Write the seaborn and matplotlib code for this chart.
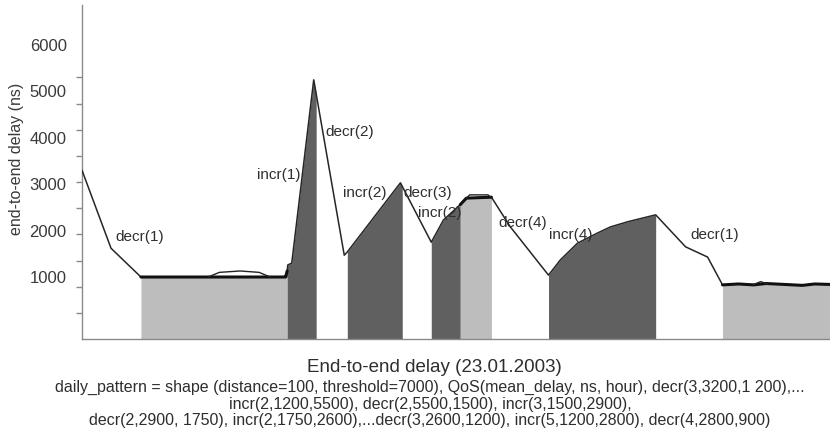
import numpy as np
import matplotlib
matplotlib.use("Agg")
import matplotlib.pyplot as plt
import seaborn as sns
from matplotlib.ticker import FixedLocator

# Patrón diario: hora vs. retardo extremo a extremo (ns)
pattern_hour = [0.00, 0.95, 1.93, 6.70, 6.74, 6.87, 7.59, 8.59, 8.69, 10.43,
                11.44, 11.84, 12.39, 12.59, 13.41, 14.03, 15.28, 15.67, 16.23,
                16.89, 17.31, 17.87, 18.79, 19.77, 20.49, 20.98, 21.50, 22.00,
                22.40, 23.00, 23.60, 24.00, 24.50]
pattern_delay = [3300, 1620, 1000, 1000, 1260, 1300, 5250, 1470, 1540, 3030,
                 1750, 2230, 2560, 2700, 2720, 2080, 1040, 1370, 1730,
                 1950, 2080, 2190, 2340, 1650, 1430, 830, 850, 830,
                 860, 840, 820, 850, 840]

# Tramos sombreados (inicio, fin, tono)
region_start = [1.93, 6.72, 8.69, 11.44, 12.39, 15.28, 20.98]
region_end = [6.72, 7.67, 10.49, 12.39, 13.41, 18.79, 24.50]
region_kind = ["flat", "shape", "shape", "shape", "flat", "shape", "flat"]

# Pequeñas protuberancias sobre los tramos planos
bump_hours = [[4.13, 4.50, 5.18, 5.80, 6.16],
              [12.59, 12.70, 13.30, 13.38],
              [22.00, 22.23, 22.46]]
bump_delays = [[1000, 1100, 1130, 1100, 1000],
               [2700, 2770, 2770, 2720],
               [840, 900, 850]]

# Etiquetas de los segmentos
seg_labels = ["decr(1)", "incr(1)", "decr(2)", "incr(2)", "decr(3)", "incr(2)",
              "decr(4)", "incr(4)", "decr(1)"]
seg_label_hour = [1.08, 5.74, 7.97, 8.56, 10.52, 11.02, 13.64, 15.28, 19.93]
seg_label_delay = [1862, 3198, 4125, 2810, 2810, 2379, 2164, 1905, 1905]

y_ticks = [1000, 2000, 3000, 4000, 5000, 6000]

title = "End-to-end delay (23.01.2003)"
caption = [
    "daily_pattern = shape (distance=100, threshold=7000), QoS(mean_delay, ns, hour), decr(3,3200,1 200),...",
    "incr(2,1200,5500), decr(2,5500,1500), incr(3,1500,2900),",
    "decr(2,2900, 1750), incr(2,1750,2600),...decr(3,2600,1200), incr(5,1200,2800), decr(4,2800,900)",
]

sns.set_style("white")
plt.rcParams["font.family"] = ["Liberation Sans", "DejaVu Sans"]
txt = "#2e2e2e"
shade = {"flat": "#bdbdbd", "shape": "#606060"}

fig = plt.figure(figsize=(8.30, 4.47), dpi=100)
ax = fig.add_axes([82 / 830, 1 - 339 / 447, 1 - 82 / 830, 334 / 447])
ymin, ymax = -336, 6862
ax.set_xlim(0, 24.5)
ax.set_ylim(ymin, ymax)

hours = np.array(pattern_hour)
delays = np.array(pattern_delay)
for a, b, k in zip(region_start, region_end, region_kind):
    xx = np.linspace(a, b, 200)
    yy = np.interp(xx, hours, delays)
    ax.fill_between(xx, ymin, yy, color=shade[k], lw=0, zorder=1)

sns.lineplot(x=hours, y=delays, ax=ax, color="#262626", lw=1.1, sort=False,
             estimator=None, zorder=3)
for a, b, k in zip(region_start, region_end, region_kind):
    if k == "flat":
        xx = np.linspace(a, b, 100)
        ax.plot(xx, np.interp(xx, hours, delays), color="#111111", lw=2.2, zorder=4)
for bh, bd in zip(bump_hours, bump_delays):
    ax.plot(bh, bd, color="#222222", lw=1.0, zorder=4)

for s, h, d in zip(seg_labels, seg_label_hour, seg_label_delay):
    ax.text(h, d, s, fontsize=11, color=txt, ha="left", va="center", zorder=5)

sns.despine(ax=ax)
for sp in ("left", "bottom"):
    ax.spines[sp].set_color("#8a8a8a")
    ax.spines[sp].set_linewidth(1.0)
ax.set_xticks([])
ax.set_yticks(y_ticks)
ax.yaxis.set_minor_locator(FixedLocator(np.arange(225, 5400, 564)))
ax.tick_params(axis="y", which="major", length=0, pad=11, labelsize=12, labelcolor="#3a3a3a")
ax.tick_params(axis="y", which="minor", length=4, width=1, color="#8a8a8a", left=True)
ax.set_ylabel("end-to-end delay (ns)", fontsize=11.5, color="#3a3a3a")
ax.yaxis.set_label_coords(-0.078, 0.54)

fig.text(434 / 830, 1 - 368 / 447, title, fontsize=13.5, color=txt, ha="center", va="center")
for i, line in enumerate(caption):
    fig.text(430 / 830, 1 - (387 + 17 * i) / 447, line, fontsize=11.5, color=txt,
             ha="center", va="center")

fig.savefig("out.png", dpi=100)
